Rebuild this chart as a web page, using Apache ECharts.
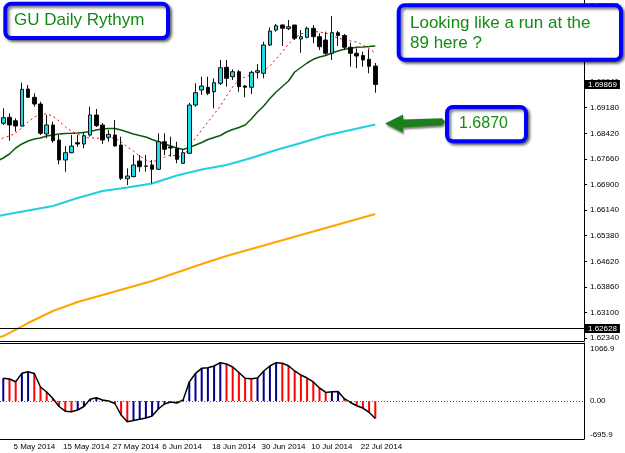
<!DOCTYPE html>
<html>
<head>
<meta charset="utf-8">
<script src="https://cdn.jsdelivr.net/npm/echarts@6/dist/echarts.min.js"></script>
<style>
  html, body { margin: 0; padding: 0; background: #fff; }
  #chart { width: 625px; height: 453px; }
</style>
</head>
<body>
<div id="chart"></div>
<script>
// GBPUSD daily, 1 May - 24 Jul 2014
const opens = [1.68717, 1.68895, 1.68794, 1.68637, 1.69736, 1.69489, 1.69290, 1.68400, 1.68667, 1.68221,
  1.67628, 1.67844, 1.68141, 1.68103, 1.68370, 1.68964, 1.68667, 1.68302, 1.68370, 1.68073,
  1.67072, 1.67132, 1.67598, 1.67450, 1.67479, 1.67352, 1.68171, 1.68014, 1.67975, 1.67530,
  1.67827, 1.69260, 1.69706, 1.69786, 1.69655, 1.69905, 1.70380, 1.70101, 1.70249, 1.69825,
  1.69786, 1.70231, 1.70202, 1.71042, 1.71487, 1.71636, 1.71526, 1.71636, 1.71220, 1.71271,
  1.71538, 1.71288, 1.71190, 1.70796, 1.71407, 1.71324, 1.70974, 1.70796, 1.70730, 1.70617,
  1.70418];
const highs = [1.69163, 1.69014, 1.68866, 1.69923, 1.69854, 1.69608, 1.69359, 1.68964, 1.68765, 1.68370,
  1.68043, 1.68370, 1.68370, 1.68468, 1.69210, 1.69142, 1.68726, 1.68518, 1.68815, 1.68320,
  1.67381, 1.67776, 1.67776, 1.67776, 1.67628, 1.68420, 1.68420, 1.68320, 1.68171, 1.67925,
  1.69320, 1.69905, 1.70101, 1.70101, 1.70053, 1.70597, 1.70597, 1.70320, 1.70300, 1.69854,
  1.70279, 1.70478, 1.71140, 1.71567, 1.71665, 1.71651, 1.71784, 1.71636, 1.71487, 1.71585,
  1.71636, 1.71389, 1.71437, 1.71903, 1.71458, 1.71369, 1.71110, 1.70944, 1.70843, 1.70914,
  1.70508];
const lows = [1.68667, 1.68201, 1.68468, 1.68616, 1.69468, 1.69210, 1.68370, 1.68272, 1.68141, 1.67500,
  1.67280, 1.67827, 1.68022, 1.67975, 1.68320, 1.68607, 1.68103, 1.68171, 1.68022, 1.67034,
  1.66885, 1.67114, 1.67280, 1.67280, 1.66936, 1.67331, 1.67776, 1.67726, 1.67530, 1.67509,
  1.67806, 1.69210, 1.69557, 1.69557, 1.69163, 1.69854, 1.69804, 1.70003, 1.69655, 1.69489,
  1.69587, 1.70053, 1.70053, 1.71012, 1.71437, 1.71012, 1.71487, 1.71190, 1.70813, 1.71241,
  1.71092, 1.70894, 1.70745, 1.70597, 1.71012, 1.70894, 1.70398, 1.70350, 1.70398, 1.70202,
  1.69626];
const closes = [1.68884, 1.68667, 1.68637, 1.69727, 1.69489, 1.69290, 1.68420, 1.68667, 1.68201, 1.67628,
  1.67844, 1.68043, 1.68103, 1.68349, 1.68964, 1.68646, 1.68221, 1.68391, 1.68043, 1.67084,
  1.67153, 1.67479, 1.67429, 1.67441, 1.67352, 1.68171, 1.67945, 1.67984, 1.67648, 1.67844,
  1.69260, 1.69626, 1.69825, 1.69608, 1.69923, 1.70368, 1.70053, 1.70249, 1.69804, 1.69786,
  1.70231, 1.70279, 1.71042, 1.71458, 1.71615, 1.71538, 1.71585, 1.71241, 1.71288, 1.71538,
  1.71288, 1.70991, 1.70796, 1.71407, 1.71324, 1.70974, 1.70796, 1.70715, 1.70597, 1.70410,
  1.69869];

// moving averages, first value is 30 Apr (just off the left edge)
const n = null;
const maFast = [1.68222, 1.68281, 1.68340, 1.68429, 1.68578, 1.68756, 1.68904, 1.68993, 1.68993, 1.68934, 1.68786,
  1.68607, 1.68489, 1.68400, 1.68311, 1.68281, 1.68281, 1.68251, 1.68281, 1.68281, 1.68162,
  1.68014, 1.67895, 1.67746, 1.67628, 1.67568, 1.67628, 1.67717, 1.67776, 1.67746, 1.67717,
  1.68014, 1.68281, 1.68518, 1.68756, 1.68993, 1.69231, 1.69528, 1.69795, 1.70003, 1.70092,
  1.70151, 1.70211, 1.70270, 1.70419, 1.70626, 1.70834, 1.71072, 1.71250, 1.71369, 1.71428,
  1.71443, 1.71428, 1.71398, 1.71309, 1.71250, 1.71190, 1.71161, 1.71131, 1.71042, 1.70938,
  1.70804];
const maMid = [1.67598, 1.67687, 1.67806, 1.67984, 1.68103, 1.68192, 1.68251, 1.68281, 1.68340, 1.68370, 1.68400,
  1.68414, 1.68420, 1.68429, 1.68444, 1.68474, 1.68518, 1.68548, 1.68563, 1.68563, 1.68518,
  1.68459, 1.68400, 1.68355, 1.68311, 1.68236, 1.68171, 1.68103, 1.68043, 1.67984, 1.67939,
  1.67999, 1.68073, 1.68147, 1.68236, 1.68296, 1.68355, 1.68459, 1.68533, 1.68593, 1.68667,
  1.68845, 1.69053, 1.69231, 1.69454, 1.69647, 1.69810, 1.69973, 1.70240, 1.70374, 1.70508,
  1.70617, 1.70686, 1.70730, 1.70804, 1.70864, 1.70914, 1.70947, 1.70974, 1.70983, 1.70997,
  1.71012];
const ma89 = [1.65950, 1.65995, n, n, n, 1.66128, n, n, n, 1.66262, n,
  n, n, 1.66499, n, n, n, 1.66707, n, n, n,
  1.66811, n, n, n, 1.66930, n, n, n, 1.67167, n,
  n, n, 1.67346, n, n, n, 1.67479, n, n, n,
  1.67687, n, n, n, 1.67925, n, n, n, 1.68132, n,
  n, n, 1.68355, n, n, n, 1.68518, n, n, n,
  1.68682];
const ma200 = [1.62343, 1.62402, n, n, n, 1.62788, n, n, n, 1.63144, n,
  n, n, 1.63412, n, n, n, 1.63619, n, n, n,
  1.63827, n, n, n, 1.64035, n, n, n, 1.64288, n,
  n, n, 1.64540, n, n, n, 1.64777, n, n, n,
  1.64985, n, n, n, 1.65193, n, n, n, 1.65401, n,
  n, n, 1.65609, n, n, n, 1.65817, n, n, n,
  1.66024];

// lower window oscillator, 1 May - 24 Jul
const osc = [419, 406, 356, 510, 540, 507, 259, 167, 48, -99,
  -185, -195, -163, -99, 33, 62, 20, 2, -44, -255,
  -378, -356, -334, -310, -274, -145, -53, -17, -35, 20,
  351, 510, 602, 613, 644, 705, 681, 626, 525, 419,
  410, 424, 553, 644, 705, 694, 650, 553, 479, 424,
  351, 241, 160, 172, 176, 45, -25, -85, -128, -205,
  -320];

const priceTicks = [1.62340, 1.63100, 1.63860, 1.64620, 1.65380, 1.66140, 1.66900,
  1.67660, 1.68420, 1.69180, 1.69940, 1.70700, 1.71460, 1.72220];
const oscTicks = [-695.9, 0, 1066.9];
const dateTicks = ['5 May 2014', '15 May 2014', '27 May 2014', '6 Jun 2014', '18 Jun 2014',
  '30 Jun 2014', '10 Jul 2014', '22 Jul 2014'];
const bidPrice = 1.69869;
const levelPrice = 1.62628;

// trading days from 1 May 2014, bar index 0 = 1 May
const months = ['Jan', 'Feb', 'Mar', 'Apr', 'May', 'Jun', 'Jul', 'Aug', 'Sep', 'Oct', 'Nov', 'Dec'];
const days = [];
for (let d = new Date(Date.UTC(2014, 4, 1)); days.length < opens.length; d.setUTCDate(d.getUTCDate() + 1)) {
  const wd = d.getUTCDay();
  if (wd === 0 || wd === 6) continue;
  days.push(d.getUTCDate() + ' ' + months[d.getUTCMonth()] + ' ' + d.getUTCFullYear());
}
// labels start a touch left of their bar, like the terminal does
const dateTickIdx = dateTicks.map(t => days.indexOf(t) - 0.35);

const candles = opens.map((o, i) => [i, o, closes[i], lows[i], highs[i]]);
const linePts = arr => arr.map((v, i) => v == null ? null : [i - 1, v]).filter(p => p);
const oscBars = osc.map((v, i) => ({
  value: [i, v],
  itemStyle: { color: (i > 0 && v < osc[i - 1]) ? '#ff0000' : '#00008b' }
}));

// visible bar range: bar 0 sits a half bar from the left edge, empty shift area on the right
const xMin = -0.53, xMax = 93.66;

const FONT = 'Liberation Sans';
const chart = echarts.init(document.getElementById('chart'));

const xBase = {
  type: 'value', min: xMin, max: xMax, splitLine: { show: false }, axisTick: { show: false }
};
const frameLine = { show: true, onZero: false, lineStyle: { color: '#000' } };

chart.setOption({
  animation: false,
  backgroundColor: '#fff',
  grid: [
    { left: 0, right: 41, top: 0, bottom: 112 },
    { left: 0, right: 41, top: 343, bottom: 14 }
  ],
  xAxis: [
    Object.assign({}, xBase, { gridIndex: 0, axisLine: frameLine, axisLabel: { show: false } }),
    Object.assign({}, xBase, {
      gridIndex: 1, axisLine: frameLine,
      axisLabel: {
        customValues: dateTickIdx, formatter: v => days[Math.round(v)],
        align: 'left', margin: 4, fontFamily: FONT, fontSize: 8, color: '#000'
      }
    }),
    // top edge of the indicator window
    Object.assign({}, xBase, { gridIndex: 1, position: 'top', axisLine: frameLine, axisLabel: { show: false } })
  ],
  yAxis: [
    {
      type: 'value', gridIndex: 0, position: 'right', min: 1.62254, max: 1.72378,
      splitLine: { show: false },
      axisLine: frameLine,
      axisTick: { show: true, length: 3, customValues: priceTicks, lineStyle: { color: '#000' } },
      axisLabel: {
        customValues: priceTicks, margin: 6, fontFamily: FONT, fontSize: 8, color: '#000',
        formatter: v => v.toFixed(5)
      }
    },
    {
      type: 'value', gridIndex: 1, position: 'right', min: -695.9, max: 1066.9,
      splitLine: { show: false },
      axisLine: frameLine,
      axisTick: { show: false },
      axisLabel: {
        customValues: oscTicks, margin: 6, fontFamily: FONT, fontSize: 8, color: '#000',
        formatter: v => v > 0 ? '{t|' + v.toFixed(1) + '}' : v < 0 ? '{b|' + v.toFixed(1) + '}' : '{m|0.00}',
        rich: {
          t: { fontFamily: FONT, fontSize: 8, padding: [12, 0, 0, 0] },
          b: { fontFamily: FONT, fontSize: 8, padding: [0, 0, 9, 0] },
          m: { fontFamily: FONT, fontSize: 8 }
        }
      }
    }
  ],
  series: [
    {
      name: 'MA200', type: 'line', xAxisIndex: 0, yAxisIndex: 0, data: linePts(ma200),
      symbol: 'none', lineStyle: { color: '#ffa500', width: 2 }, z: 2
    },
    {
      name: 'MA89', type: 'line', xAxisIndex: 0, yAxisIndex: 0, data: linePts(ma89),
      symbol: 'none', lineStyle: { color: '#1fd0df', width: 2 }, z: 2
    },
    {
      name: 'MA mid', type: 'line', xAxisIndex: 0, yAxisIndex: 0, data: linePts(maMid),
      symbol: 'none', lineStyle: { color: '#0a5a0a', width: 1.5 }, z: 3
    },
    {
      name: 'MA fast', type: 'line', xAxisIndex: 0, yAxisIndex: 0, data: linePts(maFast),
      symbol: 'none', lineStyle: { color: '#ff0000', width: 1, type: [2, 3] }, z: 3
    },
    {
      name: 'GBPUSD', type: 'candlestick', xAxisIndex: 0, yAxisIndex: 0,
      data: candles, encode: { x: 0, y: [1, 2, 3, 4] }, barWidth: 4, z: 4,
      itemStyle: { color: '#22d9e8', color0: '#000', borderColor: '#111', borderColor0: '#111', borderWidth: 1 },
      markLine: {
        silent: true, symbol: ['none', 'none'], animation: false, precision: 5,
        label: {
          position: 'end', distance: 1, formatter: p => p.value.toFixed(5),
          backgroundColor: '#000', color: '#fff', fontFamily: FONT, fontSize: 8, padding: [1, 3, 0, 3]
        },
        data: [
          { yAxis: bidPrice, lineStyle: { color: 'rgba(0,0,0,0)', width: 0 } },
          { yAxis: levelPrice, lineStyle: { color: '#000', width: 1, type: 'solid' } }
        ]
      }
    },
    {
      name: 'osc', type: 'bar', xAxisIndex: 1, yAxisIndex: 1, data: oscBars, barWidth: 2,
      markLine: {
        silent: true, symbol: ['none', 'none'], label: { show: false },
        lineStyle: { color: '#555', type: [1, 2], width: 1 },
        data: [{ yAxis: 0 }]
      }
    },
    {
      name: 'osc line', type: 'line', xAxisIndex: 1, yAxisIndex: 1,
      data: osc.map((v, i) => [i, v]),
      symbol: 'none', lineStyle: { color: '#000', width: 1.5 }, z: 3
    }
  ],
  graphic: [
    {
      type: 'rect', z: 100, shape: { x: 5.3, y: 3.7, width: 162.7, height: 34.3, r: 6 },
      style: { fill: '#fff', stroke: '#0000ff', lineWidth: 4, shadowBlur: 3, shadowOffsetX: 2, shadowOffsetY: 2, shadowColor: 'rgba(0,0,0,0.55)' }
    },
    {
      type: 'text', z: 101, left: 14, top: 12,
      style: { text: 'GU Daily Rythym', fill: '#138a13', font: '17px "Liberation Sans"' }
    },
    {
      type: 'rect', z: 100, shape: { x: 398.7, y: 5.3, width: 222.3, height: 54.4, r: 6 },
      style: { fill: '#fff', stroke: '#0000ff', lineWidth: 4, shadowBlur: 3, shadowOffsetX: 2, shadowOffsetY: 2, shadowColor: 'rgba(0,0,0,0.55)' }
    },
    {
      type: 'text', z: 101, left: 410, top: 13,
      style: { text: 'Looking like a run at the\n89 here ?', fill: '#138a13', font: '17px "Liberation Sans"', lineHeight: 20 }
    },
    {
      type: 'polygon', z: 100,
      shape: { points: [[385, 123.5], [403, 114.5], [403, 119.5], [442, 118.3], [445, 121.5], [442, 125.3], [403, 127.5], [403, 132.5]] },
      style: { fill: '#1c7f1c', shadowBlur: 2, shadowOffsetX: 1, shadowOffsetY: 2, shadowColor: 'rgba(0,0,0,0.5)' }
    },
    {
      type: 'rect', z: 100, shape: { x: 447, y: 107, width: 79, height: 34.3, r: 6 },
      style: { fill: '#fff', stroke: '#0000ff', lineWidth: 4, shadowBlur: 3, shadowOffsetX: 2, shadowOffsetY: 2, shadowColor: 'rgba(0,0,0,0.55)' }
    },
    {
      type: 'text', z: 101, left: 459, top: 116,
      style: { text: '1.6870', fill: '#138a13', font: '16px "Liberation Sans"' }
    }
  ]
});
</script>
</body>
</html>
